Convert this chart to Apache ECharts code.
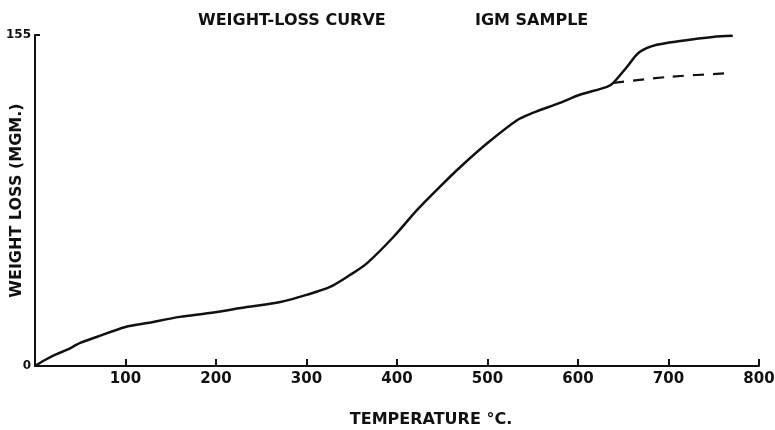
<!DOCTYPE html>
<html>
<head>
<meta charset="utf-8">
<script src="https://cdn.jsdelivr.net/npm/echarts@6/dist/echarts.min.js"></script>
<style>
  html, body { margin: 0; padding: 0; background: #fff; }
  #chart { width: 775px; height: 430px; }
</style>
</head>
<body>
<div id="chart"></div>
<script>
  // temperature (deg C) and weight loss (mgm)
  const temps = [0, 3, 11, 22, 35, 50, 68, 100, 124, 160, 193, 234, 271, 300, 326, 348, 367, 396, 422, 447, 470, 500, 533, 550, 580, 602, 632, 639, 654, 668, 687, 713, 749, 771];
  const weightLoss = [0, 0.8, 2.8, 5.2, 7.5, 10.8, 13.6, 18.3, 20.1, 23, 24.8, 27.6, 30, 33.3, 37, 42.6, 48.2, 60.4, 73, 83.8, 93.2, 104.4, 115.2, 118.5, 123.2, 127, 130.7, 132.6, 140, 147, 150.4, 152.2, 154.1, 154.6];

  // extrapolated (dashed) branch
  const dashTemps = [639, 700, 771];
  const dashLoss = [132.6, 135.4, 137.2];

  const xTicks = [0, 800, 100];   // min, max, step
  const yTicks = [0, 155, 155];

  const ink = '#111';
  const font = 'DejaVu Sans';

  const chart = echarts.init(document.getElementById('chart'));

  chart.setOption({
    backgroundColor: '#fff',
    animation: false,
    title: [
      {
        text: 'WEIGHT-LOSS CURVE',
        left: 193,
        top: 8,
        textStyle: { color: ink, fontFamily: font, fontWeight: 'bold', fontSize: 16 }
      },
      {
        text: 'IGM SAMPLE',
        left: 470,
        top: 8,
        textStyle: { color: ink, fontFamily: font, fontWeight: 'bold', fontSize: 16 }
      }
    ],
    grid: {
      left: 35,
      right: 16,
      top: 35,
      bottom: 64,
      containLabel: false,
      outerBoundsMode: 'none'
    },
    xAxis: {
      type: 'value',
      min: xTicks[0],
      max: xTicks[1],
      interval: xTicks[2],
      name: 'TEMPERATURE °C.',
      nameLocation: 'middle',
      nameGap: 46,
      nameMoveOverlap: false,
      nameTextStyle: {
        color: ink,
        fontFamily: font,
        fontWeight: 'bold',
        fontSize: 16,
        padding: [0, 0, 0, 68]
      },
      axisLine: { lineStyle: { color: ink, width: 2 } },
      axisTick: { inside: true, length: 7, lineStyle: { color: ink, width: 2 } },
      axisLabel: {
        showMinLabel: false,
        color: ink,
        fontFamily: font,
        fontWeight: 'bold',
        fontSize: 15,
        margin: 6
      },
      splitLine: { show: false }
    },
    yAxis: {
      type: 'value',
      min: yTicks[0],
      max: yTicks[1],
      interval: yTicks[2],
      name: 'WEIGHT LOSS (MGM.)',
      nameLocation: 'middle',
      nameGap: 10,
      nameMoveOverlap: false,
      nameTextStyle: {
        color: ink,
        fontFamily: font,
        fontWeight: 'bold',
        fontSize: 16
      },
      axisLine: { show: true, lineStyle: { color: ink, width: 2 } },
      axisTick: { show: true, inside: true, length: 5, lineStyle: { color: ink, width: 2 } },
      axisLabel: {
        color: ink,
        fontFamily: font,
        fontWeight: 'bold',
        fontSize: 12,
        margin: 4
      },
      splitLine: { show: false }
    },
    series: [
      {
        name: 'Weight loss',
        type: 'line',
        data: temps.map((t, i) => [t, weightLoss[i]]),
        smooth: 0.3,
        symbol: 'none',
        lineStyle: { color: ink, width: 2.5 }
      },
      {
        name: 'Extrapolated',
        type: 'line',
        data: dashTemps.map((t, i) => [t, dashLoss[i]]),
        smooth: 0.3,
        symbol: 'none',
        lineStyle: { color: ink, width: 2.2, type: [11, 9] }
      }
    ]
  });
</script>
</body>
</html>
